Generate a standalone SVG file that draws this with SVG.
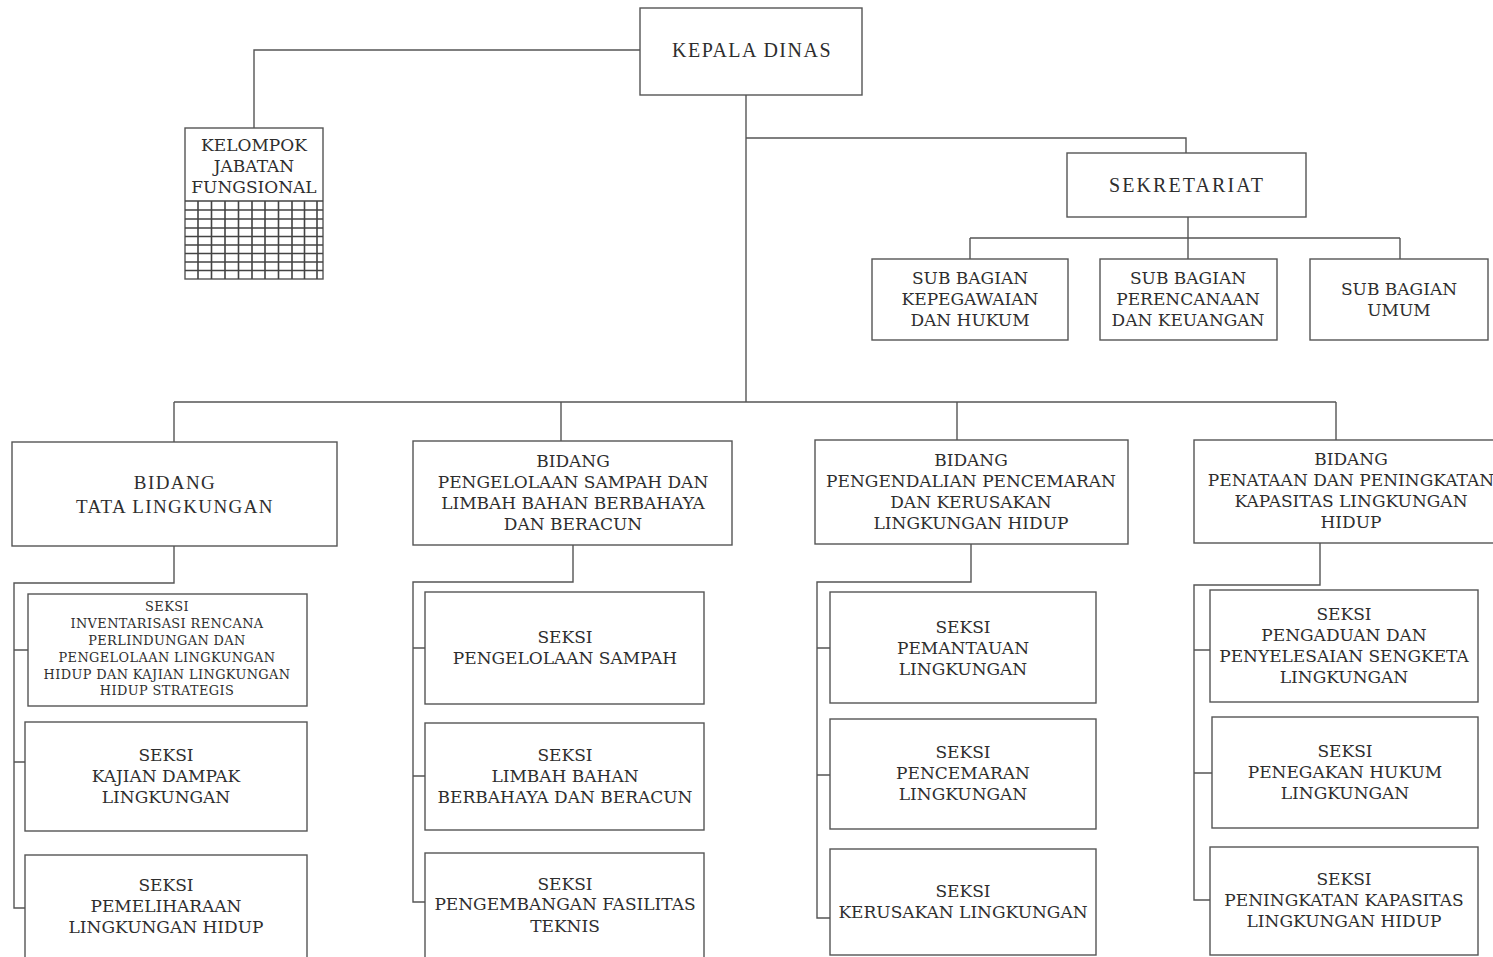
<svg xmlns="http://www.w3.org/2000/svg" width="1493" height="957" viewBox="0 0 1493 957">
<style>
.box{fill:#fff;stroke:#555;stroke-width:1.4}
.ln{fill:none;stroke:#555;stroke-width:1.4}
.grid{fill:none;stroke:#444;stroke-width:1.6}
text{font-family:"DejaVu Serif","Liberation Serif",serif;font-size:17px;fill:#2e2e2e;text-anchor:middle}
.sm{font-size:12.9px;letter-spacing:0.4px}
.tt{font-family:"Liberation Serif","DejaVu Serif",serif;font-size:20px;letter-spacing:1.5px}
.ts{font-family:"Liberation Serif","DejaVu Serif",serif;font-size:20px;letter-spacing:2.1px}
.tb{font-family:"Liberation Serif","DejaVu Serif",serif;font-size:19px;letter-spacing:1.4px}
</style>
<rect width="1493" height="957" fill="#fff"/>
<g id="connectors">
<path class="ln" d="M640,50 H254 V128"/>
<path class="ln" d="M746,95 V402"/>
<path class="ln" d="M746,138 H1186 V153"/>
<path class="ln" d="M1188,217 V259 M970,238 H1400 M970,238 V259 M1400,238 V259"/>
<path class="ln" d="M174,402 H1336 M174,402 V442 M561,402 V441 M957,402 V440 M1336,402 V440"/>
<path class="ln" d="M174,546 V583 H14 V908 H25 M14,650 H28 M14,762 H25"/>
<path class="ln" d="M573,545 V582 H413 V902 H425 M413,648 H425 M413,776 H425"/>
<path class="ln" d="M971,544 V582 H817 V918 H830 M817,648 H830 M817,775 H830"/>
<path class="ln" d="M1320,543 V585 H1194 V900 H1210 M1194,650 H1210 M1194,773 H1212"/>
</g>
<g id="kepala-dinas">
<rect class="box" x="640" y="8" width="222" height="87"/>
<text class="tt" x="752" y="57">KEPALA DINAS</text>
</g>
<g id="kelompok-jabatan-fungsional">
<rect class="box" x="185" y="128" width="138" height="151"/>
<text x="254" y="151">KELOMPOK</text>
<text x="254" y="172">JABATAN</text>
<text x="254" y="193">FUNGSIONAL</text>
<path class="grid" d="M185,201 H323 M185,210 H323 M185,219 H323 M185,228 H323 M185,236.5 H323 M185,245 H323 M185,253.5 H323 M185,262 H323 M185,270.5 H323 M198,201 V279 M211.5,201 V279 M225,201 V279 M238.5,201 V279 M252,201 V279 M265,201 V279 M278.5,201 V279 M292,201 V279 M304.5,201 V279 M317,201 V279"/>
</g>
<g id="sekretariat">
<rect class="box" x="1067" y="153" width="239" height="64"/>
<text class="ts" x="1187" y="192">SEKRETARIAT</text>
</g>
<g id="sub-bagian-kepegawaian">
<rect class="box" x="872" y="259" width="196" height="81"/>
<text x="970" y="284">SUB BAGIAN</text>
<text x="970" y="305">KEPEGAWAIAN</text>
<text x="970" y="326">DAN HUKUM</text>
</g>
<g id="sub-bagian-perencanaan">
<rect class="box" x="1100" y="259" width="177" height="81"/>
<text x="1188" y="284">SUB BAGIAN</text>
<text x="1188" y="305">PERENCANAAN</text>
<text x="1188" y="326">DAN KEUANGAN</text>
</g>
<g id="sub-bagian-umum">
<rect class="box" x="1310" y="259" width="178" height="81"/>
<text x="1399" y="295">SUB BAGIAN</text>
<text x="1399" y="316">UMUM</text>
</g>
<g id="bidang-tata-lingkungan">
<rect class="box" x="12" y="442" width="325" height="104"/>
<text class="tb" x="175" y="489">BIDANG</text>
<text class="tb" x="175" y="513">TATA LINGKUNGAN</text>
</g>
<g id="bidang-pengelolaan-sampah">
<rect class="box" x="413" y="441" width="319" height="104"/>
<text x="573" y="467">BIDANG</text>
<text x="573" y="488">PENGELOLAAN SAMPAH DAN</text>
<text x="573" y="509">LIMBAH BAHAN BERBAHAYA</text>
<text x="573" y="530">DAN BERACUN</text>
</g>
<g id="bidang-pengendalian-pencemaran">
<rect class="box" x="815" y="440" width="313" height="104"/>
<text x="971" y="466">BIDANG</text>
<text x="971" y="487">PENGENDALIAN PENCEMARAN</text>
<text x="971" y="508">DAN KERUSAKAN</text>
<text x="971" y="529">LINGKUNGAN HIDUP</text>
</g>
<g id="bidang-penataan">
<rect class="box" x="1194" y="440" width="310" height="103"/>
<text x="1351" y="465">BIDANG</text>
<text x="1351" y="486">PENATAAN DAN PENINGKATAN</text>
<text x="1351" y="507">KAPASITAS LINGKUNGAN</text>
<text x="1351" y="528">HIDUP</text>
</g>
<g id="seksi-inventarisasi">
<rect class="box" x="28" y="594" width="279" height="112"/>
<text class="sm" x="167" y="611">SEKSI</text>
<text class="sm" x="167" y="628">INVENTARISASI RENCANA</text>
<text class="sm" x="167" y="645">PERLINDUNGAN DAN</text>
<text class="sm" x="167" y="662">PENGELOLAAN LINGKUNGAN</text>
<text class="sm" x="167" y="679">HIDUP DAN KAJIAN LINGKUNGAN</text>
<text class="sm" x="167" y="695">HIDUP STRATEGIS</text>
</g>
<g id="seksi-kajian-dampak">
<rect class="box" x="25" y="722" width="282" height="109"/>
<text x="166" y="761">SEKSI</text>
<text x="166" y="782">KAJIAN DAMPAK</text>
<text x="166" y="803">LINGKUNGAN</text>
</g>
<g id="seksi-pemeliharaan">
<rect class="box" x="25" y="855" width="282" height="110"/>
<text x="166" y="891">SEKSI</text>
<text x="166" y="912">PEMELIHARAAN</text>
<text x="166" y="933">LINGKUNGAN HIDUP</text>
</g>
<g id="seksi-pengelolaan-sampah">
<rect class="box" x="425" y="592" width="279" height="112"/>
<text x="565" y="643">SEKSI</text>
<text x="565" y="664">PENGELOLAAN SAMPAH</text>
</g>
<g id="seksi-limbah-b3">
<rect class="box" x="425" y="723" width="279" height="107"/>
<text x="565" y="761">SEKSI</text>
<text x="565" y="782">LIMBAH BAHAN</text>
<text x="565" y="803">BERBAHAYA DAN BERACUN</text>
</g>
<g id="seksi-pengembangan-fasilitas">
<rect class="box" x="425" y="853" width="279" height="110"/>
<text x="565" y="890">SEKSI</text>
<text x="565" y="910">PENGEMBANGAN FASILITAS</text>
<text x="565" y="932">TEKNIS</text>
</g>
<g id="seksi-pemantauan">
<rect class="box" x="830" y="592" width="266" height="111"/>
<text x="963" y="633">SEKSI</text>
<text x="963" y="654">PEMANTAUAN</text>
<text x="963" y="675">LINGKUNGAN</text>
</g>
<g id="seksi-pencemaran">
<rect class="box" x="830" y="719" width="266" height="110"/>
<text x="963" y="758">SEKSI</text>
<text x="963" y="779">PENCEMARAN</text>
<text x="963" y="800">LINGKUNGAN</text>
</g>
<g id="seksi-kerusakan">
<rect class="box" x="830" y="849" width="266" height="106"/>
<text x="963" y="897">SEKSI</text>
<text x="963" y="918">KERUSAKAN LINGKUNGAN</text>
</g>
<g id="seksi-pengaduan">
<rect class="box" x="1210" y="590" width="268" height="112"/>
<text x="1344" y="620">SEKSI</text>
<text x="1344" y="641">PENGADUAN DAN</text>
<text x="1344" y="662">PENYELESAIAN SENGKETA</text>
<text x="1344" y="683">LINGKUNGAN</text>
</g>
<g id="seksi-penegakan-hukum">
<rect class="box" x="1212" y="717" width="266" height="111"/>
<text x="1345" y="757">SEKSI</text>
<text x="1345" y="778">PENEGAKAN HUKUM</text>
<text x="1345" y="799">LINGKUNGAN</text>
</g>
<g id="seksi-peningkatan-kapasitas">
<rect class="box" x="1210" y="847" width="268" height="108"/>
<text x="1344" y="885">SEKSI</text>
<text x="1344" y="906">PENINGKATAN KAPASITAS</text>
<text x="1344" y="927">LINGKUNGAN HIDUP</text>
</g>
</svg>
